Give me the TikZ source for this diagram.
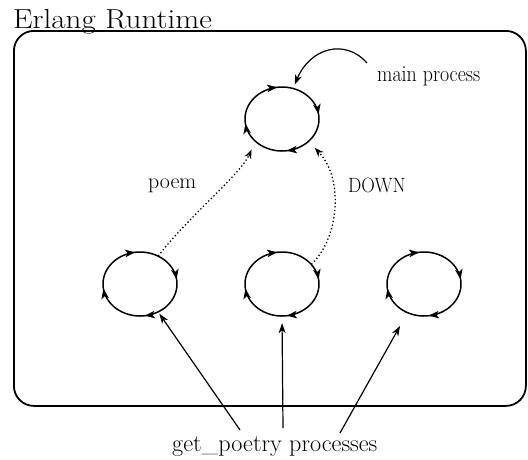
\documentclass[tikz,border=0pt]{standalone}
\usetikzlibrary{arrows.meta,decorations.markings,shapes.geometric}
\newcommand\cycdraw[1]{\draw[cyc] ([shift={(55:37pt and 32pt)}]#1.center) arc[start angle=55,end angle=-305,x radius=37pt,y radius=32pt];}
\tikzset{cyctip/.tip={Stealth[length=10pt,width=7.5pt,inset=2.5pt]}}
\begin{document}
\begin{tikzpicture}[x=1pt,y=-1pt,
  proc/.style={ellipse, minimum width=74pt, minimum height=64pt, inner sep=0pt},
  cyc/.style={line width=1.5pt, postaction={decorate}, decoration={markings,
     mark=at position 0.125 with {\arrow{cyctip}},
     mark=at position 0.375 with {\arrow{cyctip}},
     mark=at position 0.625 with {\arrow{cyctip}},
     mark=at position 0.875 with {\arrow{cyctip}}}},
  dotline/.style={line width=1.3pt, dash pattern=on 1.3pt off 2.4pt, -{Stealth[length=9pt,width=7pt]}},
  ptr/.style={line width=1.2pt, -{Stealth[length=10pt,width=7pt,inset=3pt]}},
  lbl/.style={inner sep=0pt, anchor=base west},
  frame/.style={line width=1.8pt, rounded corners=20pt}
]
\useasboundingbox (0,0) rectangle (528,459);
\node[lbl, font=\fontsize{27.5}{30}\selectfont] (title) at (13,28) {\scalebox{1.13}[1]{Erlang Runtime}};
\node[draw, frame, minimum width=512pt, minimum height=375pt, anchor=north west, inner sep=0pt] (rt) at (13,30) {};

\node[proc] (main) at (282,119) {};
\node[proc] (p1) at (140,284) {};
\node[proc] (p2) at (282,284) {};
\node[proc] (p3) at (424,284) {};
\cycdraw{main}
\cycdraw{p1}
\cycdraw{p2}
\cycdraw{p3}

\node[lbl, font=\fontsize{19.9}{24}\selectfont] (mp) at (377,81) {\scalebox{1}[1.15]{main process}};
\node[lbl, font=\fontsize{21.9}{24}\selectfont] (poem) at (148,188) {poem};
\node[lbl, font=\fontsize{18.8}{22}\selectfont] (down) at (348,192) {\scalebox{1}[1.1]{DOWN}};
\node[lbl, font=\fontsize{24.2}{28}\selectfont] (gp) at (172,451) {get\_poetry processes};

\draw[dotline, shorten >=9pt] (p1.57) .. controls (190,215) and (240,175) .. (main.220);
\draw[dotline, shorten >=9pt] (p2.34) .. controls (338,240) and (345,180) .. (main.320);

\coordinate (mps) at (367,63);
\draw[ptr, shorten >=4pt] (mps) .. controls (345,38) and (310,48) .. (main.70);

\coordinate (g1) at (240,430);
\coordinate (g2) at (283,428);
\coordinate (g3) at (340,433);
\draw[ptr, shorten >=2pt] (g1) -- (p1.-57);
\draw[ptr, shorten >=7pt] (g2) -- (p2.south);
\draw[ptr, shorten >=15pt] (g3) -- (p3.-120);
\end{tikzpicture}
\end{document}
